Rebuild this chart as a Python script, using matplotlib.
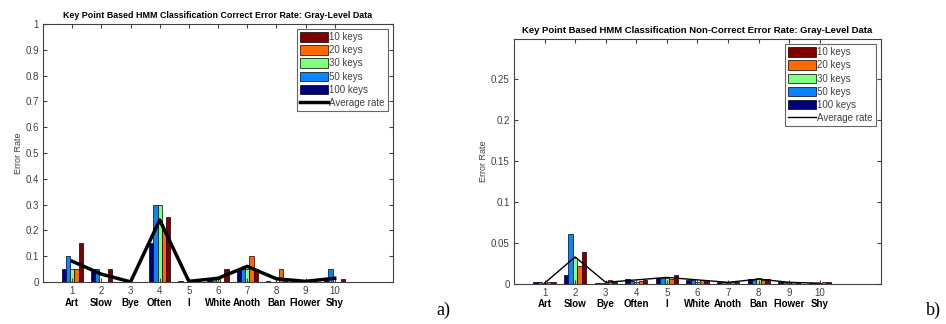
import matplotlib
matplotlib.use("Agg")
import matplotlib.pyplot as plt
import numpy as np

plt.rcParams['font.family'] = ['Liberation Sans', 'DejaVu Sans']

# --- data ---
cat_nums = [1, 2, 3, 4, 5, 6, 7, 8, 9, 10]
cat_names = ["Art", "Slow", "Bye", "Often", "I", "White", "Anoth", "Ban", "Flower", "Shy"]
series_labels = ["10 keys", "20 keys", "30 keys", "50 keys", "100 keys"]
series_colors = ["#800000", "#ff6a00", "#80ff80", "#0a84ff", "#00007f"]

# a) correct error rate
a_10 = [0.15, 0.05, 0.0, 0.25, 0.002, 0.05, 0.05, 0.01, 0.002, 0.01]
a_20 = [0.05, 0.0, 0.0, 0.20, 0.002, 0.0, 0.10, 0.05, 0.0, 0.0]
a_30 = [0.05, 0.0, 0.0, 0.30, 0.0, 0.01, 0.05, 0.0, 0.0, 0.0]
a_50 = [0.10, 0.05, 0.0, 0.30, 0.0, 0.01, 0.05, 0.0, 0.0, 0.05]
a_100 = [0.05, 0.05, 0.0, 0.15, 0.002, 0.01, 0.05, 0.002, 0.002, 0.01]
a_avg = [0.08, 0.03, 0.0, 0.24, 0.002, 0.014, 0.06, 0.012, 0.002, 0.014]

# b) non-correct error rate
b_10 = [0.002, 0.039, 0.003, 0.005, 0.011, 0.005, 0.002, 0.006, 0.002, 0.002]
b_20 = [0.002, 0.022, 0.005, 0.004, 0.006, 0.005, 0.002, 0.005, 0.002, 0.002]
b_30 = [0.001, 0.032, 0.001, 0.003, 0.007, 0.003, 0.001, 0.007, 0.001, 0.001]
b_50 = [0.002, 0.061, 0.001, 0.004, 0.007, 0.005, 0.002, 0.005, 0.002, 0.001]
b_100 = [0.002, 0.011, 0.001, 0.006, 0.007, 0.005, 0.002, 0.006, 0.002, 0.001]
b_avg = [0.001, 0.033, 0.002, 0.005, 0.008, 0.005, 0.002, 0.006, 0.002, 0.001]

GRAY = "#404040"


def draw_panel(ax, series, avg, title, title_size, ymax, yticks, line_w):
    x = np.array(cat_nums, dtype=float)
    w = 0.145
    # draw order left to right: 100, 50, 30, 20, 10 keys
    order = [4, 3, 2, 1, 0]
    handles = [None] * 5
    for pos, idx in enumerate(order):
        b = ax.bar(x + (pos - 2) * w, series[idx], width=w,
                   color=series_colors[idx], edgecolor="black", linewidth=0.5,
                   label=series_labels[idx])
        handles[idx] = b
    line, = ax.plot(x, avg, color="black", lw=line_w, label="Average rate")

    ax.set_xlim(0, 12)
    ax.set_ylim(0, ymax)
    ax.set_xticks(cat_nums)
    ax.set_xticklabels([str(c) for c in cat_nums])
    ax.set_yticks(yticks)
    ax.set_yticklabels([f"{t:g}" for t in yticks])
    ax.tick_params(direction="in", top=True, right=True, length=3,
                   labelsize=7, labelcolor=GRAY, color=GRAY, pad=3)
    for s in ax.spines.values():
        s.set_color(GRAY)
        s.set_linewidth(0.8)
    ax.set_ylabel("Error Rate", fontsize=6.5, color=GRAY, labelpad=2)
    ax.set_title(title, fontsize=title_size, fontweight="bold", pad=4)

    for c, name in zip(cat_nums, cat_names):
        ax.text(c, -0.062, name, transform=ax.get_xaxis_transform(),
                ha="center", va="top", fontsize=7, fontweight="bold")

    leg = ax.legend(handles + [line], series_labels + ["Average rate"],
                    loc="upper right", fontsize=7, frameon=True, fancybox=False,
                    handlelength=2.9, handleheight=1.1, borderpad=0.3,
                    labelspacing=0.32, handletextpad=0.15, borderaxespad=0.55)
    leg.get_frame().set_edgecolor(GRAY)
    leg.get_frame().set_linewidth(0.8)
    for t in leg.get_texts():
        t.set_color(GRAY)


fig = plt.figure(figsize=(9.46, 3.24), dpi=100)

ax1 = fig.add_axes([0.0455, 0.130, 0.370, 0.796])
draw_panel(ax1, [a_10, a_20, a_30, a_50, a_100], a_avg,
           "Key Point Based HMM Classification Correct Error Rate: Gray-Level Data", 6.4,
           1.0, [round(0.1 * i, 1) for i in range(11)], 2.5)

ax2 = fig.add_axes([0.5433, 0.1235, 0.388, 0.756])
draw_panel(ax2, [b_10, b_20, b_30, b_50, b_100], b_avg,
           "Key Point Based HMM Classification Non-Correct Error Rate: Gray-Level Data", 6.8,
           0.2988, [0, 0.05, 0.1, 0.15, 0.2, 0.25], 1.0)

fig.text(443 / 946, 1 - 310 / 324, "a)", fontsize=13, family="Liberation Serif",
         ha="center", va="center")
fig.text(933 / 946, 1 - 310 / 324, "b)", fontsize=13, family="Liberation Serif",
         ha="center", va="center")

fig.savefig("out.png", dpi=100)
